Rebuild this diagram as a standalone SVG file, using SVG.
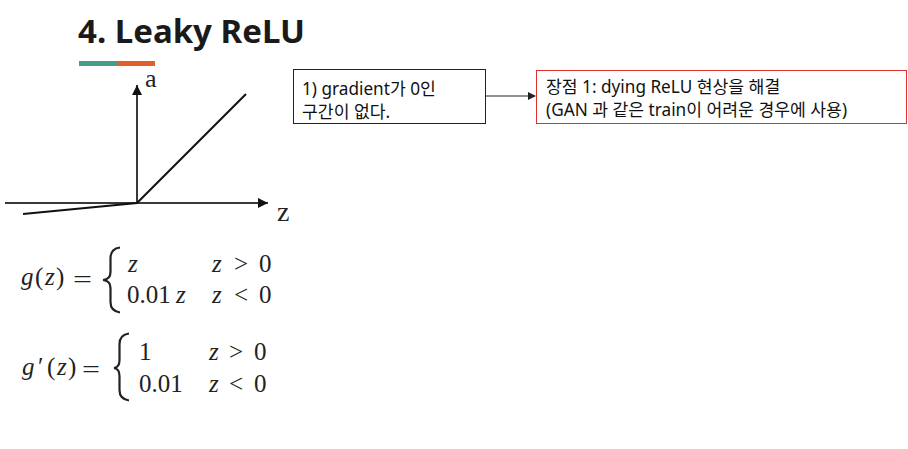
<svg xmlns="http://www.w3.org/2000/svg" width="908" height="449" viewBox="0 0 908 449">
<style>
.title{font-family:"Noto Sans","Noto Sans CJK KR",sans-serif;font-weight:bold;font-size:33px;fill:#1a1a1a}
.lbl{font-family:"Noto Sans","Noto Sans CJK KR",sans-serif;font-size:17.2px;fill:#111}
.m{font-family:"Liberation Serif",serif;font-size:25px;fill:#222}
.mi{font-family:"Liberation Serif",serif;font-style:italic;font-size:25px;fill:#222}
.ax{stroke:#3a3a3a;stroke-width:2;fill:none}
.fn{stroke:#111;stroke-width:2;fill:none}
.br{stroke:#222;stroke-width:2.2;fill:none}
.box{fill:#fff;stroke:#222;stroke-width:1}
.conn{stroke:#222;stroke-width:1;fill:none}
</style>
<defs>
<marker id="ah" markerWidth="8" markerHeight="8" refX="7" refY="4" orient="auto" markerUnits="userSpaceOnUse"><path d="M0,0 L8,4 L0,8 Z" fill="#222"/></marker>
<marker id="axh" markerWidth="10" markerHeight="10" refX="10" refY="5" orient="auto" markerUnits="userSpaceOnUse"><path d="M0,0 L10,5 L0,10 Z" fill="#111"/></marker>
</defs>
<rect width="908" height="449" fill="#fff"/>
<g id="title">
<text class="title" x="78" y="43">4. Leaky ReLU</text>
<rect x="79" y="61" width="39" height="5" fill="#4a9a88"/>
<rect x="118" y="61" width="37" height="5" fill="#e0602a"/>
</g>
<g id="plot">
<line class="ax" x1="137" y1="203" x2="137" y2="85" marker-end="url(#axh)"/>
<line class="ax" x1="5" y1="203" x2="268" y2="203" marker-end="url(#axh)"/>
<polyline class="fn" points="23,214 137,203 246,94"/>
<text class="m" x="145" y="87" style="font-size:26px">a</text>
<text class="m" x="277" y="221" style="font-size:28px">z</text>
</g>
<g id="formula1">
<text class="mi" x="21" y="285">g</text>
<text class="m" x="35" y="285">(</text>
<text class="mi" x="45" y="285">z</text>
<text class="m" x="56" y="285">)</text>
<text class="m" x="73" y="288" textLength="19" lengthAdjust="spacingAndGlyphs">=</text>
<path class="br" d="M120,247.5 C113,248.5 110.5,252 110.5,258 L110.5,272 C110.5,277 108.5,279.5 103,280 C108.5,280.5 110.5,283 110.5,288 L110.5,302 C110.5,308 113,311.5 120,312.5"/>
<text class="mi" x="128" y="272">z</text>
<text class="m" x="127" y="303">0.01</text>
<text class="mi" x="176" y="303">z</text>
<text class="mi" x="212" y="272">z</text>
<text class="m" x="234" y="272">&gt;</text>
<text class="m" x="259" y="272">0</text>
<text class="mi" x="212" y="303">z</text>
<text class="m" x="234" y="303">&lt;</text>
<text class="m" x="259" y="303">0</text>
</g>
<g id="formula2">
<text class="mi" x="22" y="375">g</text>
<text class="m" x="38" y="375">′</text>
<text class="m" x="47" y="375">(</text>
<text class="mi" x="57" y="375">z</text>
<text class="m" x="68" y="375">)</text>
<text class="m" x="82" y="378" textLength="18" lengthAdjust="spacingAndGlyphs">=</text>
<path class="br" d="M129,333.5 C122,334.5 119.5,338 119.5,344 L119.5,360 C119.5,365 117.5,367.5 114,368 C117.5,368.5 119.5,371 119.5,376 L119.5,390 C119.5,396 122,399.5 129,400.5"/>
<text class="m" x="139" y="360">1</text>
<text class="m" x="139" y="392">0.01</text>
<text class="mi" x="209" y="360">z</text>
<text class="m" x="229" y="360">&gt;</text>
<text class="m" x="254" y="360">0</text>
<text class="mi" x="209" y="392">z</text>
<text class="m" x="229" y="392">&lt;</text>
<text class="m" x="254" y="392">0</text>
</g>
<g id="connectors">
<line class="conn" x1="485" y1="96" x2="535" y2="96" marker-end="url(#ah)"/>
</g>
<g id="node1">
<rect class="box" x="293.5" y="69.5" width="192" height="54"/>
<text class="lbl" x="302" y="95">1) gradient가 0인</text>
<text class="lbl" x="302" y="118">구간이 없다.</text>
</g>
<g id="node2">
<rect class="box" x="536.5" y="70.5" width="370" height="53" style="stroke:#e03030"/>
<text class="lbl" x="546" y="93">장점 1: dying ReLU 현상을 해결</text>
<text class="lbl" x="546" y="116">(GAN 과 같은 train이 어려운 경우에 사용)</text>
</g>
</svg>
